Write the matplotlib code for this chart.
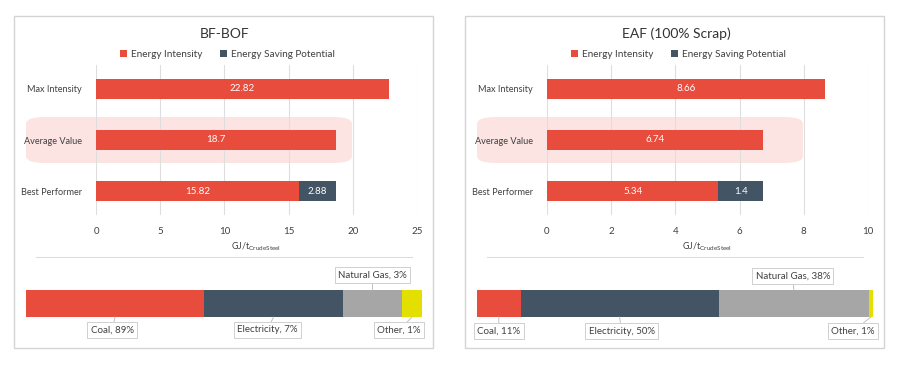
import matplotlib.pyplot as plt
from matplotlib.patches import Rectangle, FancyBboxPatch
from matplotlib.lines import Line2D

plt.rcParams['font.family'] = ['Lato', 'DejaVu Sans']

# -----------------------------
# DATA
# -----------------------------
categories = ["Max Intensity", "Average Value", "Best Performer"]

bof_intensity = [22.82, 18.7, 15.82]
bof_saving = [0, 0, 2.88]
eaf_intensity = [8.66, 6.74, 5.34]
eaf_saving = [0, 0, 1.4]

sources = ["Coal", "Electricity", "Natural Gas", "Other"]
bof_share = [89, 7, 3, 1]
bof_share_drawn = [45, 35, 15, 5]   # segment widths as drawn in the graphic
eaf_share = [11, 50, 38, 1]

RED = "#E84C3D"
DARK = "#435464"
GREY = "#A6A6A6"
YELLOW = "#E3E000"
TXT = "#404040"
src_colors = [RED, DARK, GREY, YELLOW]

W, H = 900, 365
fig = plt.figure(figsize=(9, 3.65), dpi=100)


def box(x0, y0, x1, y1):
    # pixel box (top-left origin) -> figure coords
    return [x0 / W, 1 - y1 / H, (x1 - x0) / W, (y1 - y0) / H]


def panel(x0, title, intensity, saving, xmax, step, share_labels, share_drawn,
          label_pos):
    # frame
    fig.patches.append(Rectangle((x0 / W, 1 - 348 / H), 419 / W, 332 / H,
                                 transform=fig.transFigure, fill=False,
                                 edgecolor="#d4d4d4", linewidth=1, zorder=-2))
    # highlight behind "Average Value"
    fig.patches.append(FancyBboxPatch(((x0 + 12) / W, 1 - 163 / H), 326 / W, 46 / H,
                                      boxstyle="round,pad=0,rounding_size=0.02",
                                      transform=fig.transFigure,
                                      facecolor="#fce4e2", edgecolor="none",
                                      zorder=-1))
    fig.text((x0 + 211) / W, 1 - 34 / H, title, ha="center", va="center",
             fontsize=10, color="#333333")

    ax = fig.add_axes(box(x0 + 82, 65, x0 + 403, 215))
    ax.patch.set_alpha(0)
    y = range(len(categories))
    b1 = ax.barh(y, intensity, height=0.39, color=RED, label="Energy Intensity",
                 zorder=3)
    b2 = ax.barh(y, saving, left=intensity, height=0.39, color=DARK,
                 label="Energy Saving Potential", zorder=3)
    ax.bar_label(b1, labels=[f"{v:g}" for v in intensity], label_type="center",
                 color="white", fontsize=7)
    ax.bar_label(b2, labels=[f"{v:g}" if v else "" for v in saving],
                 label_type="center", color="white", fontsize=7)
    ax.set_yticks(list(y))
    ax.set_yticklabels(categories, fontsize=6.6, color=TXT)
    ax.set_ylim(2.47, -0.47)
    ax.set_xlim(0, xmax)
    ax.set_xticks(range(0, xmax + 1, step))
    ax.tick_params(axis="x", labelsize=7, labelcolor=TXT, length=0, pad=9)
    ax.tick_params(axis="y", length=0, pad=10)
    ax.grid(axis="x", color="#dedede", linewidth=0.8, zorder=0)
    for s in ax.spines.values():
        s.set_visible(False)
    ax.set_xlabel(r"GJ/t$_{\mathregular{CrudeSteel}}$", fontsize=6.5,
                  color=TXT, labelpad=3)
    ax.legend(loc="lower center", bbox_to_anchor=(0.41, 0.98), ncol=2,
              frameon=False, fontsize=7.2, handlelength=0.7, handleheight=0.7,
              handletextpad=0.4, columnspacing=1.8, labelcolor=TXT)

    # separator
    fig.add_artist(Line2D([(x0 + 22) / W, (x0 + 398) / W], [1 - 257 / H] * 2,
                          color="#dddddd", linewidth=0.8))

    # energy source bar
    bx = fig.add_axes(box(x0 + 12, 290, x0 + 408, 317))
    total = sum(share_drawn)
    left = 0
    for name, val, lab, col, (dx, dy) in zip(sources, share_drawn, share_labels,
                                             src_colors, label_pos):
        bx.barh(0, val, left=left, height=1, color=col)
        mid = left + val / 2
        edge = 0.5 if dy > 0 else -0.5
        bx.annotate(f"{name}, {lab}%", xy=(mid, edge), xycoords="data",
                    xytext=(dx, dy), textcoords="offset pixels",
                    ha="center", va="center", fontsize=7, color=TXT,
                    bbox=dict(boxstyle="square,pad=0.35", facecolor="white",
                              edgecolor="#d0d0d0", linewidth=0.7),
                    arrowprops=dict(arrowstyle="-", color="#c0c0c0",
                                    linewidth=0.7, shrinkA=0, shrinkB=0),
                    annotation_clip=False)
        left += val
    bx.set_xlim(0, total)
    bx.set_ylim(-0.5, 0.5)
    bx.axis("off")


panel(14, "BF-BOF", bof_intensity, bof_saving, 25, 5, bof_share,
      bof_share_drawn,
      [(-3, -13), (-6, -13), (0, 15), (-13, -13)])
panel(465, "EAF (100% Scrap)", eaf_intensity, eaf_saving, 10, 2, eaf_share,
      eaf_share,
      [(0, -14), (2, -14), (-1, 14), (-18, -14)])

fig.savefig("out.png", dpi=100)
